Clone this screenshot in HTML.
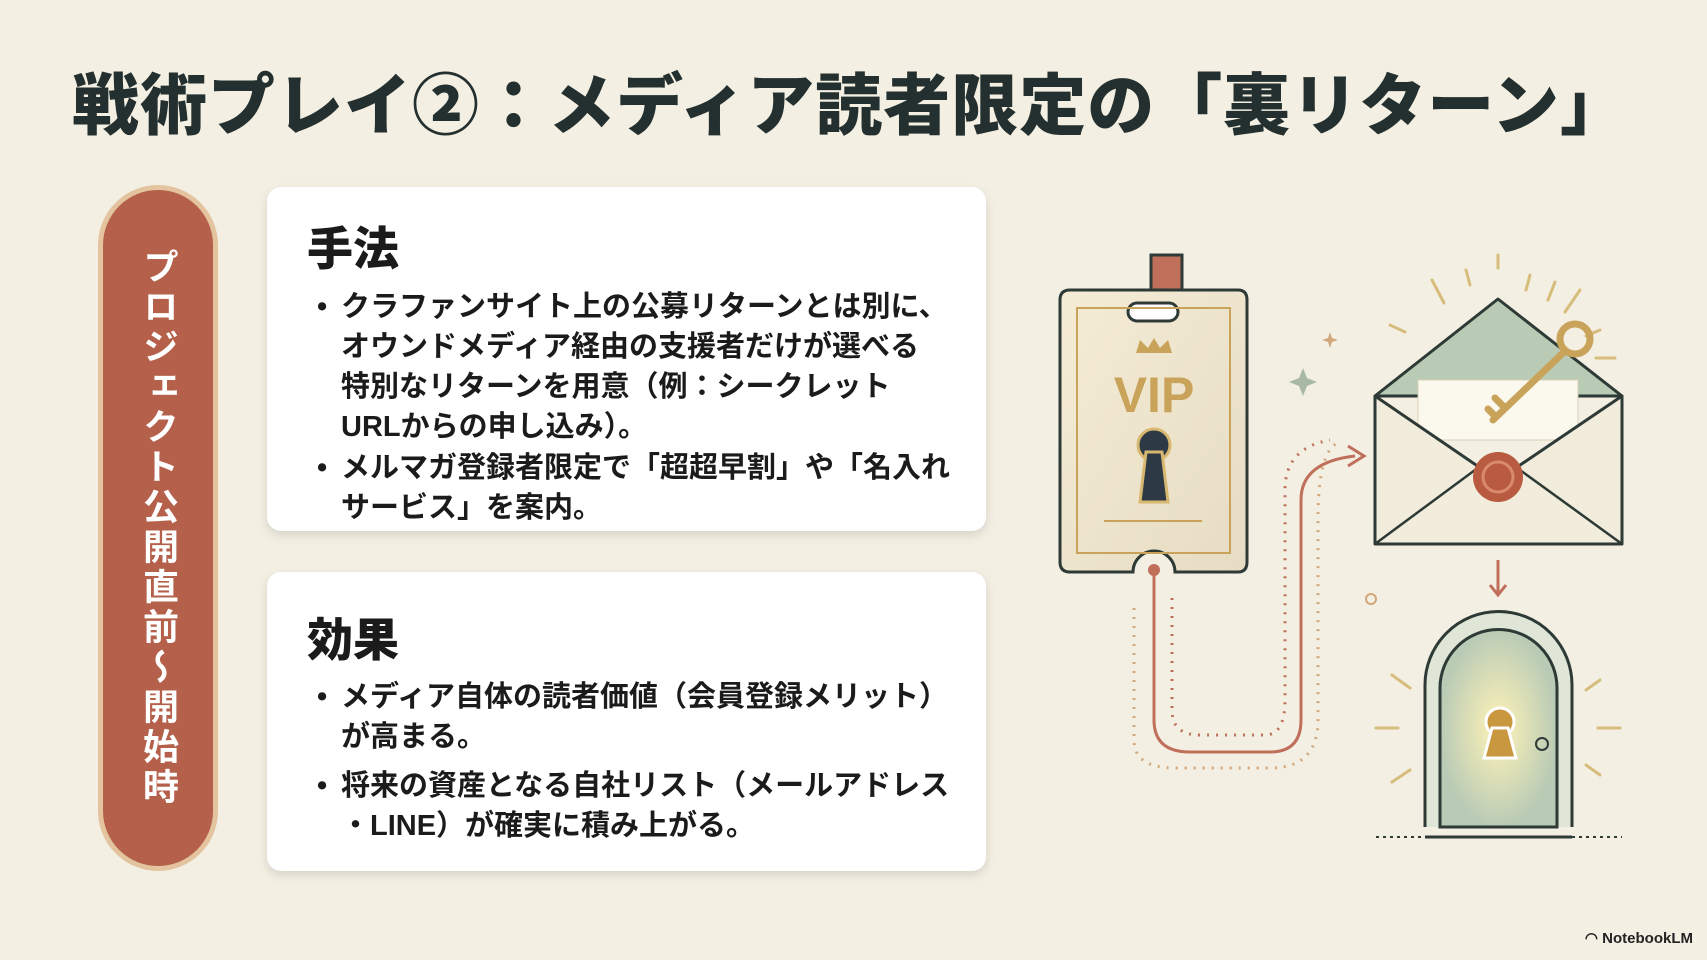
<!DOCTYPE html>
<html><head><meta charset="utf-8"><style>
body{margin:0;width:1707px;height:960px;overflow:hidden;background:#f3efe3;font-family:"Liberation Sans","Noto Sans CJK JP",sans-serif;position:relative;color:#1f2a2a}
.t{position:absolute;left:72px;top:52px;font-size:67px;font-weight:900;letter-spacing:1px;white-space:nowrap;color:#24302f}
.pill{position:absolute;left:98px;top:185px;width:120px;height:686px;border-radius:60px;background:#e3c49e;box-sizing:border-box;padding:5px}
.pill div{width:100%;height:100%;border-radius:56px;background:#b4604a;color:#fff;font-weight:700;font-size:36px;writing-mode:vertical-rl;text-align:center;line-height:110px;display:flex;align-items:center;justify-content:center;letter-spacing:4px}
.card{position:absolute;left:267px;width:719px;background:#fff;border-radius:14px;box-shadow:0 4px 10px rgba(0,0,0,.12)}
.h{position:absolute;left:40px;font-size:46px;font-weight:900;color:#1b1b1b}
.b{position:absolute;left:74px;font-size:29px;font-weight:700;line-height:40px;color:#1b1b1b;white-space:nowrap}
.b span{position:absolute;left:-24px}
.nb{position:absolute;right:14px;bottom:13px;font-size:15px;font-weight:700;color:#222}
</style></head><body>
<div class="t">戦術プレイ②：メディア読者限定の「裏リターン」</div>
<div class="pill"><div>プロジェクト公開直前〜開始時</div></div>
<div class="card" style="top:187px;height:344px">
 <div class="h" style="top:26px">手法</div>
 <div class="b" style="top:100px"><span>•</span>クラファンサイト上の公募リターンとは別に、<br>オウンドメディア経由の支援者だけが選べる<br>特別なリターンを用意（例：シークレット<br>URLからの申し込み）。</div>
 <div class="b" style="top:261px"><span>•</span>メルマガ登録者限定で「超超早割」や「名入れ<br>サービス」を案内。</div>
</div>
<div class="card" style="top:572px;height:299px">
 <div class="h" style="top:32px">効果</div>
 <div class="b" style="top:105px"><span>•</span>メディア自体の読者価値（会員登録メリット）<br>が高まる。</div>
 <div class="b" style="top:194px"><span>•</span>将来の資産となる自社リスト（メールアドレス<br>・LINE）が確実に積み上がる。</div>
</div>
<svg style="position:absolute;left:0;top:0" width="1707" height="960">
 <defs><linearGradient id="g" x1="0" y1="0" x2="1" y2="1"><stop offset="0" stop-color="#f5ecd6"/><stop offset="1" stop-color="#e6dcc3"/></linearGradient>
 <radialGradient id="gl"><stop offset="0" stop-color="#fff3b8"/><stop offset="1" stop-color="#b9cbb5"/></radialGradient></defs>
 <path d="M1154 570 V720 Q1154 752 1190 752 H1270 Q1301 752 1301 720 V500 Q1301 462 1355 456" fill="none" stroke="#c0705a" stroke-width="3"/>
 <path d="M1348 446 L1364 456 L1348 466" fill="none" stroke="#c0705a" stroke-width="3"/>
 <path d="M1134 608 V740 Q1134 768 1175 768 H1270 Q1318 768 1318 720 V520 Q1318 448 1340 442" fill="none" stroke="#d2a77a" stroke-width="3" stroke-dasharray="2 7"/>
 <path d="M1172 598 V710 Q1172 735 1200 735 H1265 Q1285 735 1285 700 V490 Q1285 448 1330 440" fill="none" stroke="#c0705a" stroke-width="3" stroke-dasharray="2 7"/>
 <circle cx="1154" cy="570" r="6" fill="#c0705a"/>
 <rect x="1151" y="255" width="31" height="58" fill="#c0705a" stroke="#2d3a36" stroke-width="3"/>
 <path d="M1072 290 H1238 Q1247 290 1247 300 V562 Q1247 572 1238 572 H1175 A21 21 0 0 0 1133 572 H1070 Q1060 572 1060 562 V300 Q1060 290 1070 290Z" fill="url(#g)" stroke="#2d3a36" stroke-width="3"/>
 <rect x="1128" y="303" width="50" height="18" rx="9" fill="#fff" stroke="#2d3a36" stroke-width="3"/>
 <rect x="1077" y="308" width="153" height="245" fill="none" stroke="#c9a35a" stroke-width="2"/>
 <path d="M1136 353 L1140 340 L1148 348 L1154 338 L1160 348 L1168 340 L1172 353Z" fill="#c9a35a"/>
 <text x="1154" y="412" text-anchor="middle" font-family="Liberation Sans" font-weight="700" font-size="50" fill="#c9a35a">VIP</text>
 <circle cx="1154" cy="445" r="16" fill="#2d3a45" stroke="#d8b870" stroke-width="3"/>
 <path d="M1146 452 L1140 502 H1168 L1162 452Z" fill="#2d3a45" stroke="#d8b870" stroke-width="3"/>
 <line x1="1104" y1="521" x2="1202" y2="521" stroke="#c9a35a" stroke-width="2"/>
 <path d="M1303 368 l4 10 10 4 -10 4 -4 10 -4 -10 -10 -4 10 -4z" fill="#a9b8a5"/>
 <path d="M1330 332 l2 6 6 2 -6 2 -2 6 -2 -6 -6 -2 6 -2z" fill="#d2a77a"/>
 <circle cx="1371" cy="599" r="5" fill="none" stroke="#d2a77a" stroke-width="2"/>
 <g stroke="#d7bd7c" stroke-width="3" stroke-linecap="round">
  <line x1="1498" y1="255" x2="1498" y2="268"/><line x1="1432" y1="280" x2="1444" y2="303"/><line x1="1466" y1="270" x2="1470" y2="285"/><line x1="1530" y1="275" x2="1526" y2="290"/><line x1="1555" y1="282" x2="1548" y2="300"/><line x1="1580" y1="290" x2="1565" y2="312"/><line x1="1600" y1="330" x2="1586" y2="336"/><line x1="1615" y1="358" x2="1596" y2="358"/><line x1="1390" y1="325" x2="1405" y2="332"/>
  <line x1="1392" y1="675" x2="1410" y2="688"/><line x1="1376" y1="728" x2="1398" y2="728"/><line x1="1392" y1="782" x2="1410" y2="770"/><line x1="1600" y1="680" x2="1586" y2="690"/><line x1="1620" y1="728" x2="1598" y2="728"/><line x1="1600" y1="775" x2="1586" y2="765"/>
 </g>
 <path d="M1375 396 L1498 299 L1622 396Z" fill="#b9cbb5" stroke="#2d3a36" stroke-width="3" stroke-linejoin="round"/>
 <rect x="1418" y="380" width="160" height="60" fill="#fbf8ee" stroke="#d8cfb5" stroke-width="1"/>
 <path d="M1375 396 L1498 480 L1622 396 V544 H1375Z" fill="#f1ecdc" stroke="#2d3a36" stroke-width="3" stroke-linejoin="round"/>
 <path d="M1375 544 L1475 470 M1622 544 L1520 470" stroke="#2d3a36" stroke-width="2.5"/>
 <circle cx="1498" cy="477" r="25" fill="#b85b40"/><circle cx="1498" cy="477" r="15" fill="none" stroke="#d98a6e" stroke-width="3"/>
 <circle cx="1575" cy="339" r="15" fill="none" stroke="#c9a35a" stroke-width="7"/>
 <path d="M1565 351 L1493 420 M1505 408 l-10 -10 M1496 417 l-8 -8" stroke="#c9a35a" stroke-width="7" stroke-linecap="round"/>
 <path d="M1498 560 V593 M1490 585 L1498 595 L1506 585" fill="none" stroke="#c0705a" stroke-width="3"/>
 <path d="M1425 827 V685 A73 73 0 0 1 1572 685 V827" fill="#dfe6d8" stroke="#2d3a36" stroke-width="3"/>
 <path d="M1440 827 V688 A58 58 0 0 1 1557 688 V827Z" fill="url(#gl)" stroke="#2d3a36" stroke-width="3"/>
 <circle cx="1500" cy="722" r="14" fill="#c9973f" stroke="#fff" stroke-width="3"/>
 <path d="M1492 728 L1484 758 H1516 L1508 728Z" fill="#c9973f" stroke="#fff" stroke-width="3"/>
 <circle cx="1542" cy="744" r="6" fill="none" stroke="#2d3a36" stroke-width="2"/>
 <line x1="1376" y1="837" x2="1622" y2="837" stroke="#2d3a36" stroke-width="2" stroke-dasharray="3 4"/>
 <line x1="1425" y1="837" x2="1572" y2="837" stroke="#2d3a36" stroke-width="3"/>
</svg>
<div class="nb">◠ NotebookLM</div>
</body></html>
